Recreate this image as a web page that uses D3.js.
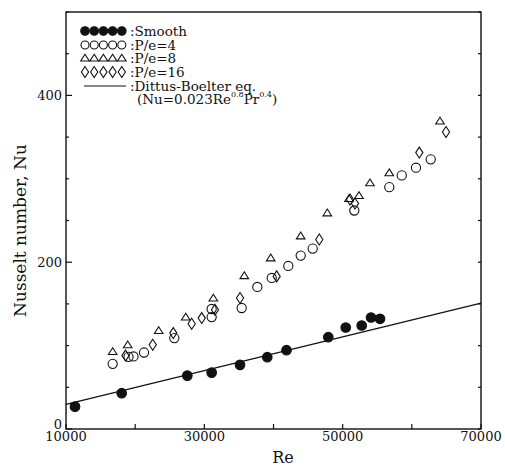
<!DOCTYPE html>
<html>
<head>
<meta charset="utf-8">
<script src="https://cdn.jsdelivr.net/npm/d3@7/dist/d3.min.js"></script>
<style>
  body { margin: 0; background: #fff; }
  text { font-family: "DejaVu Serif", serif; fill: #111; }
</style>
</head>
<body>
<svg id="chart" width="505" height="469"></svg>
<script>
// values
let smoothRe = [11300, 18050, 27540, 31060, 35160, 39100, 41880, 47920, 50440, 52750, 54100, 55400];
let smoothNu = [26.8, 42.9, 64.0, 67.6, 76.9, 86.1, 94.5, 110.1, 121.7, 124.1, 133.7, 132.1];

let pe4Re = [16750, 19040, 19760, 21280, 25660, 31060, 31060, 35400, 37660, 39740, 42140, 43930, 45670, 51680, 56740, 58540, 60600, 62730];
let pe4Nu = [78.1, 86.5, 87.0, 91.7, 109.0, 134.2, 143.9, 145.1, 170.3, 181.1, 195.5, 207.9, 216.3, 262.0, 290.0, 304.1, 313.3, 323.3];

let pe8Re = [16750, 18920, 23400, 27310, 31300, 35780, 39600, 43930, 47780, 50920, 52360, 53950, 56740, 64070];
let pe8Nu = [92.9, 101.0, 118.1, 134.3, 157.1, 183.9, 205.2, 231.6, 259.2, 276.4, 280.0, 295.3, 307.3, 369.3];

let pe16Re = [18600, 22540, 25510, 28170, 29620, 31540, 35160, 40460, 46620, 51060, 51780, 61080, 64940];
let pe16Nu = [88.0, 101.0, 115.0, 126.2, 133.0, 143.0, 157.1, 183.0, 227.2, 275.2, 270.4, 331.4, 356.1];

// Dittus-Boelter line, end points as drawn
let dbRe = [10000, 70000];
let dbNu = [29.5, 151];

let xTickLabels = [10000, 30000, 50000, 70000];
let yTickLabels = [0, 200, 400];

const svg = d3.select("#chart");
const pLeft = 66, pRight = 481, pTop = 12, pBottom = 429;

var x = d3.scaleLinear().domain([10000, 70000]).range([pLeft, pRight]);
var y = d3.scaleLinear().domain([0, 500]).range([pBottom, pTop]);

// shape paths centred on (cx, cy)
const circlePath = (cx, cy, r) => `M${cx - r},${cy}a${r},${r} 0 1,0 ${2 * r},0a${r},${r} 0 1,0 ${-2 * r},0`;
const triPath = (cx, cy) => `M${cx},${cy - 3.8}L${cx + 4.3},${cy + 3}L${cx - 4.3},${cy + 3}Z`;
const diaPath = (cx, cy) => `M${cx},${cy - 5.5}L${cx + 3.6},${cy}L${cx},${cy + 5.5}L${cx - 3.6},${cy}Z`;

const stroke = "#111";

// frame
svg.append("rect").attr("x", pLeft).attr("y", pTop).attr("width", pRight - pLeft).attr("height", pBottom - pTop)
  .attr("fill", "none").attr("stroke", stroke).attr("stroke-width", 1.4);

// ticks - left and right
d3.range(0, 501, 50).forEach(v => {
  let len = (v % 200 == 0) ? 6 : 3;
  svg.append("line").attr("x1", pLeft).attr("x2", pLeft + len).attr("y1", y(v)).attr("y2", y(v))
    .attr("stroke", stroke).attr("stroke-width", 1.2);
  svg.append("line").attr("x1", pRight).attr("x2", pRight - 3).attr("y1", y(v)).attr("y2", y(v))
    .attr("stroke", stroke).attr("stroke-width", 1.2);
});
// bottom ticks
d3.range(10000, 70001, 10000).forEach(v => {
  svg.append("line").attr("x1", x(v)).attr("x2", x(v)).attr("y1", pBottom).attr("y2", pBottom - 5)
    .attr("stroke", stroke).attr("stroke-width", 1.2);
});

// tick labels
svg.selectAll(".xl").data(xTickLabels).enter().append("text")
  .attr("x", d => x(d)).attr("y", pBottom + 12).attr("text-anchor", "middle")
  .attr("font-size", 13).text(d => d);
svg.selectAll(".yl").data(yTickLabels).enter().append("text")
  .attr("x", d => d == 0 ? pLeft - 4 : pLeft - 4).attr("y", d => d == 0 ? y(d) + 0 : y(d) + 5)
  .attr("text-anchor", "end").attr("font-size", 13).text(d => d);

// axis titles
svg.append("text").attr("x", 283).attr("y", 463).attr("text-anchor", "middle")
  .attr("font-size", 16).text("Re");
svg.append("text").attr("transform", `translate(26,${(pTop + pBottom) / 2 + 10}) rotate(-90)`)
  .attr("text-anchor", "middle").attr("font-size", 17).text("Nusselt number, Nu");

// Dittus-Boelter line
let line = d3.line().x(d => x(d[0])).y(d => y(d[1]));
svg.append("path").attr("d", line(d3.zip(dbRe, dbNu))).attr("fill", "none")
  .attr("stroke", stroke).attr("stroke-width", 1.2);

// series
const drawSeries = (re, nu, fn, fill) => {
  svg.append("g").selectAll("path").data(d3.zip(re, nu)).enter().append("path")
    .attr("d", d => fn(x(d[0]), y(d[1])))
    .attr("fill", fill).attr("stroke", stroke).attr("stroke-width", 1.1);
};
drawSeries(pe16Re, pe16Nu, diaPath, "none");
drawSeries(pe8Re, pe8Nu, triPath, "none");
drawSeries(pe4Re, pe4Nu, (a, b) => circlePath(a, b, 4.6), "none");
drawSeries(smoothRe, smoothNu, (a, b) => circlePath(a, b, 4.8), "#111");

// legend
let legendLabels = [":Smooth", ":P/e=4", ":P/e=8", ":P/e=16", ":Dittus-Boelter eq."];
let legendY = [31, 45, 58, 72, 86];
let legendShapes = [
  (a, b) => circlePath(a, b, 4.3),
  (a, b) => circlePath(a, b, 4),
  triPath,
  diaPath
];
legendShapes.forEach((fn, i) => {
  for (let k = 0; k < 5; k++) {
    svg.append("path").attr("d", fn(85 + k * 9.2, legendY[i]))
      .attr("fill", i == 0 ? "#111" : "none").attr("stroke", stroke).attr("stroke-width", 1.1);
  }
});
svg.append("line").attr("x1", 84).attr("x2", 126).attr("y1", legendY[4]).attr("y2", legendY[4])
  .attr("stroke", stroke).attr("stroke-width", 1.1);
legendLabels.forEach((t, i) => {
  svg.append("text").attr("x", 130).attr("y", legendY[i] + 5).attr("font-size", 13.5)
    .text(t);
});
let eq = svg.append("text").attr("x", 137).attr("y", legendY[4] + 18).attr("font-size", 13.5);
eq.append("tspan").text("(Nu=0.023Re");
eq.append("tspan").attr("font-size", 8).attr("dy", -7).text("0.8");
eq.append("tspan").attr("dy", 7).text("Pr");
eq.append("tspan").attr("font-size", 8).attr("dy", -7).text("0.4");
eq.append("tspan").attr("dy", 7).text(")");
</script>
</body>
</html>
